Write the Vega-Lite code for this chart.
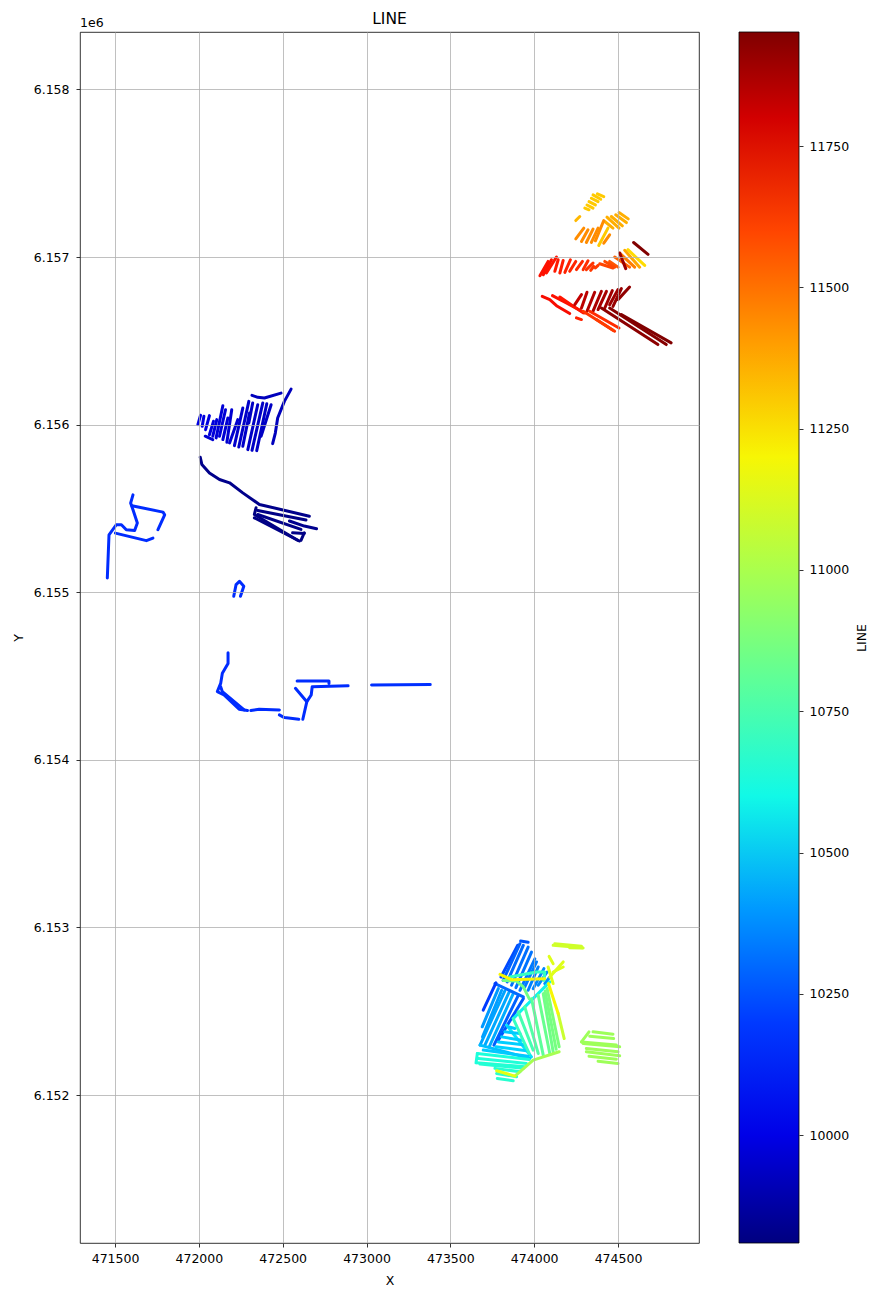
{"$schema":"https://vega.github.io/schema/vega-lite/v6.json","width":619,"height":1211,"autosize":"none","padding":{"left":80,"top":32,"right":182,"bottom":53},"background":"white","title":{"text":"LINE","font":"DejaVu Sans","fontSize":15.5,"fontWeight":"normal","offset":-10,"color":"black"},"config":{"view":{"stroke":"black","strokeWidth":0.8}},"resolve":{"scale":{"y":"independent"}},"datasets":{"lines":[
{"s":"k1","LINE":9830,"X":472008,"Y":6155806},{"s":"k1","LINE":9830,"X":472018,"Y":6155762},{"s":"k1","LINE":9830,"X":472063,"Y":6155712},{"s":"k1","LINE":9830,"X":472123,"Y":6155673},{"s":"k1","LINE":9830,"X":472183,"Y":6155653},{"s":"k1","LINE":9830,"X":472262,"Y":6155593},{"s":"k1","LINE":9830,"X":472361,"Y":6155524},{"s":"k1","LINE":9830,"X":472659,"Y":6155454},
{"s":"k2","LINE":9815,"X":472341,"Y":6155504},{"s":"k2","LINE":9815,"X":472331,"Y":6155464},{"s":"k2","LINE":9815,"X":472589,"Y":6155310},
{"s":"k3","LINE":9820,"X":472351,"Y":6155488},{"s":"k3","LINE":9820,"X":472639,"Y":6155431},
{"s":"k4","LINE":9825,"X":472351,"Y":6155464},{"s":"k4","LINE":9825,"X":472609,"Y":6155375},
{"s":"k5","LINE":9820,"X":472331,"Y":6155444},{"s":"k5","LINE":9820,"X":472599,"Y":6155306},
{"s":"k6","LINE":9835,"X":472540,"Y":6155425},{"s":"k6","LINE":9835,"X":472629,"Y":6155395},{"s":"k6","LINE":9835,"X":472702,"Y":6155379},
{"s":"k7","LINE":9815,"X":472629,"Y":6155355},{"s":"k7","LINE":9815,"X":472609,"Y":6155310},
{"s":"k8","LINE":9820,"X":472559,"Y":6155355},{"s":"k8","LINE":9820,"X":472629,"Y":6155351},
{"s":"m1","LINE":9920,"X":472317,"Y":6156175},{"s":"m1","LINE":9920,"X":472351,"Y":6156163},{"s":"m1","LINE":9920,"X":472391,"Y":6156159},{"s":"m1","LINE":9920,"X":472490,"Y":6156188},
{"s":"m2","LINE":9920,"X":472440,"Y":6155887},{"s":"m2","LINE":9920,"X":472456,"Y":6155950},{"s":"m2","LINE":9920,"X":472470,"Y":6156040},{"s":"m2","LINE":9920,"X":472510,"Y":6156139},{"s":"m2","LINE":9920,"X":472550,"Y":6156212},
{"s":"m3","LINE":9960,"X":472038,"Y":6155931},{"s":"m3","LINE":9960,"X":472083,"Y":6155911},
{"s":"n1","LINE":9990,"X":471994,"Y":6156000},{"s":"n1","LINE":9990,"X":472010,"Y":6156056},
{"s":"n2","LINE":9985,"X":472020,"Y":6155990},{"s":"n2","LINE":9985,"X":472030,"Y":6156050},
{"s":"n3","LINE":9985,"X":472040,"Y":6155970},{"s":"n3","LINE":9985,"X":472063,"Y":6156054},
{"s":"n4","LINE":9980,"X":472063,"Y":6155940},{"s":"n4","LINE":9980,"X":472087,"Y":6156020},
{"s":"n5","LINE":9975,"X":472083,"Y":6155931},{"s":"n5","LINE":9975,"X":472107,"Y":6156030},
{"s":"n6","LINE":9970,"X":472103,"Y":6155921},{"s":"n6","LINE":9970,"X":472143,"Y":6156113},
{"s":"n7","LINE":9970,"X":472123,"Y":6155931},{"s":"n7","LINE":9970,"X":472159,"Y":6156089},
{"s":"n8","LINE":9965,"X":472143,"Y":6155911},{"s":"n8","LINE":9965,"X":472173,"Y":6156040},
{"s":"n9","LINE":9960,"X":472167,"Y":6155895},{"s":"n9","LINE":9960,"X":472196,"Y":6156089},
{"s":"n10","LINE":9955,"X":472183,"Y":6155891},{"s":"n10","LINE":9955,"X":472232,"Y":6156030},
{"s":"n11","LINE":9950,"X":472212,"Y":6155875},{"s":"n11","LINE":9950,"X":472262,"Y":6156099},
{"s":"n12","LINE":9945,"X":472238,"Y":6155867},{"s":"n12","LINE":9945,"X":472298,"Y":6156139},
{"s":"n13","LINE":9945,"X":472262,"Y":6155871},{"s":"n13","LINE":9945,"X":472302,"Y":6156069},
{"s":"n14","LINE":9940,"X":472292,"Y":6155851},{"s":"n14","LINE":9940,"X":472351,"Y":6156119},
{"s":"n15","LINE":9940,"X":472317,"Y":6155847},{"s":"n15","LINE":9940,"X":472381,"Y":6156129},
{"s":"n16","LINE":9935,"X":472345,"Y":6155845},{"s":"n16","LINE":9935,"X":472405,"Y":6156125},
{"s":"n17","LINE":9935,"X":472371,"Y":6155931},{"s":"n17","LINE":9935,"X":472431,"Y":6156119},
{"s":"n18","LINE":9935,"X":472298,"Y":6156010},{"s":"n18","LINE":9935,"X":472321,"Y":6156129},
{"s":"p1","LINE":10170,"X":471454,"Y":6155085},{"s":"p1","LINE":10170,"X":471464,"Y":6155343},{"s":"p1","LINE":10170,"X":471508,"Y":6155403},{"s":"p1","LINE":10170,"X":471538,"Y":6155403},{"s":"p1","LINE":10170,"X":471567,"Y":6155373},{"s":"p1","LINE":10170,"X":471617,"Y":6155369},{"s":"p1","LINE":10170,"X":471633,"Y":6155413},{"s":"p1","LINE":10170,"X":471607,"Y":6155492},{"s":"p1","LINE":10170,"X":471593,"Y":6155532},{"s":"p1","LINE":10170,"X":471607,"Y":6155581},
{"s":"p2","LINE":10170,"X":471502,"Y":6155353},{"s":"p2","LINE":10170,"X":471687,"Y":6155308},{"s":"p2","LINE":10170,"X":471726,"Y":6155323},
{"s":"p3","LINE":10170,"X":471756,"Y":6155373},{"s":"p3","LINE":10170,"X":471796,"Y":6155462},{"s":"p3","LINE":10170,"X":471786,"Y":6155478},{"s":"p3","LINE":10170,"X":471601,"Y":6155516},
{"s":"p4","LINE":10170,"X":472208,"Y":6154976},{"s":"p4","LINE":10170,"X":472222,"Y":6155046},{"s":"p4","LINE":10170,"X":472242,"Y":6155065},{"s":"p4","LINE":10170,"X":472268,"Y":6155036},{"s":"p4","LINE":10170,"X":472248,"Y":6154976},
{"s":"q1","LINE":10170,"X":472174,"Y":6154639},{"s":"q1","LINE":10170,"X":472174,"Y":6154575},{"s":"q1","LINE":10170,"X":472140,"Y":6154516},{"s":"q1","LINE":10170,"X":472130,"Y":6154456},{"s":"q1","LINE":10170,"X":472110,"Y":6154407},{"s":"q1","LINE":10170,"X":472150,"Y":6154387},{"s":"q1","LINE":10170,"X":472240,"Y":6154302},{"s":"q1","LINE":10170,"X":472290,"Y":6154294},
{"s":"q2","LINE":10170,"X":472130,"Y":6154436},{"s":"q2","LINE":10170,"X":472140,"Y":6154407},{"s":"q2","LINE":10170,"X":472270,"Y":6154298},
{"s":"q3","LINE":10170,"X":472310,"Y":6154294},{"s":"q3","LINE":10170,"X":472360,"Y":6154302},{"s":"q3","LINE":10170,"X":472480,"Y":6154298},
{"s":"q4","LINE":10170,"X":472480,"Y":6154268},{"s":"q4","LINE":10170,"X":472510,"Y":6154252},{"s":"q4","LINE":10170,"X":472596,"Y":6154242},
{"s":"q5","LINE":10170,"X":472620,"Y":6154242},{"s":"q5","LINE":10170,"X":472644,"Y":6154347},{"s":"q5","LINE":10170,"X":472670,"Y":6154387},{"s":"q5","LINE":10170,"X":472676,"Y":6154436},{"s":"q5","LINE":10170,"X":472890,"Y":6154442},
{"s":"q6","LINE":10170,"X":472644,"Y":6154347},{"s":"q6","LINE":10170,"X":472576,"Y":6154427},
{"s":"q7","LINE":10170,"X":472586,"Y":6154470},{"s":"q7","LINE":10170,"X":472776,"Y":6154470},{"s":"q7","LINE":10170,"X":472776,"Y":6154456},
{"s":"q8","LINE":10175,"X":473030,"Y":6154446},{"s":"q8","LINE":10175,"X":473380,"Y":6154450},
{"s":"u0","LINE":10230,"X":473802,"Y":6152704},{"s":"u0","LINE":10230,"X":473901,"Y":6152893},
{"s":"u1","LINE":10280,"X":473815,"Y":6152684},{"s":"u1","LINE":10280,"X":473915,"Y":6152903},
{"s":"u2","LINE":10300,"X":473839,"Y":6152675},{"s":"u2","LINE":10300,"X":473935,"Y":6152893},
{"s":"u3","LINE":10310,"X":473865,"Y":6152655},{"s":"u3","LINE":10310,"X":473964,"Y":6152883},
{"s":"u4","LINE":10320,"X":473891,"Y":6152641},{"s":"u4","LINE":10320,"X":473984,"Y":6152853},
{"s":"u5","LINE":10330,"X":473915,"Y":6152625},{"s":"u5","LINE":10330,"X":474004,"Y":6152813},
{"s":"u6","LINE":10340,"X":473944,"Y":6152645},{"s":"u6","LINE":10340,"X":474014,"Y":6152794},
{"s":"u7","LINE":10350,"X":473964,"Y":6152625},{"s":"u7","LINE":10350,"X":474024,"Y":6152764},
{"s":"u8","LINE":10360,"X":473994,"Y":6152635},{"s":"u8","LINE":10360,"X":474058,"Y":6152754},
{"s":"u9","LINE":10370,"X":474024,"Y":6152655},{"s":"u9","LINE":10370,"X":474077,"Y":6152734},
{"s":"u10","LINE":10380,"X":474063,"Y":6152665},{"s":"u10","LINE":10380,"X":474093,"Y":6152704},
{"s":"u11","LINE":10260,"X":473919,"Y":6152919},{"s":"u11","LINE":10260,"X":473964,"Y":6152911},
{"s":"l1","LINE":10400,"X":473690,"Y":6152407},{"s":"l1","LINE":10400,"X":473786,"Y":6152635},
{"s":"l2","LINE":10410,"X":473692,"Y":6152347},{"s":"l2","LINE":10410,"X":473806,"Y":6152625},
{"s":"l3","LINE":10420,"X":473677,"Y":6152298},{"s":"l3","LINE":10420,"X":473825,"Y":6152621},
{"s":"l4","LINE":10430,"X":473706,"Y":6152298},{"s":"l4","LINE":10430,"X":473851,"Y":6152615},
{"s":"l5","LINE":10440,"X":473732,"Y":6152288},{"s":"l5","LINE":10440,"X":473875,"Y":6152605},
{"s":"l6","LINE":10280,"X":473760,"Y":6152298},{"s":"l6","LINE":10280,"X":473905,"Y":6152595},
{"s":"l7","LINE":10260,"X":473786,"Y":6152327},{"s":"l7","LINE":10260,"X":473935,"Y":6152575},
{"s":"l8","LINE":10300,"X":473766,"Y":6152665},{"s":"l8","LINE":10300,"X":473935,"Y":6152585},
{"s":"l0","LINE":10200,"X":473696,"Y":6152506},{"s":"l0","LINE":10200,"X":473772,"Y":6152669},
{"s":"t1","LINE":10560,"X":473835,"Y":6152417},{"s":"t1","LINE":10560,"X":473984,"Y":6152228},
{"s":"t2","LINE":10480,"X":473677,"Y":6152298},{"s":"t2","LINE":10480,"X":473974,"Y":6152218},
{"s":"t3","LINE":10500,"X":473845,"Y":6152407},{"s":"t3","LINE":10500,"X":473885,"Y":6152397},
{"s":"t4","LINE":10500,"X":473825,"Y":6152377},{"s":"t4","LINE":10500,"X":473915,"Y":6152367},
{"s":"t5","LINE":10510,"X":473806,"Y":6152347},{"s":"t5","LINE":10510,"X":473925,"Y":6152327},
{"s":"t6","LINE":10510,"X":473786,"Y":6152317},{"s":"t6","LINE":10510,"X":473944,"Y":6152298},
{"s":"t7","LINE":10520,"X":473772,"Y":6152288},{"s":"t7","LINE":10520,"X":473954,"Y":6152264},
{"s":"t8","LINE":10500,"X":473696,"Y":6152268},{"s":"t8","LINE":10500,"X":473964,"Y":6152232},
{"s":"b1","LINE":10630,"X":473661,"Y":6152248},{"s":"b1","LINE":10630,"X":473970,"Y":6152212},
{"s":"b2","LINE":10640,"X":473667,"Y":6152218},{"s":"b2","LINE":10640,"X":473954,"Y":6152188},
{"s":"b3","LINE":10650,"X":473657,"Y":6152192},{"s":"b3","LINE":10650,"X":473944,"Y":6152169},
{"s":"b4","LINE":10650,"X":473677,"Y":6152185},{"s":"b4","LINE":10650,"X":473935,"Y":6152159},
{"s":"b5","LINE":10660,"X":473766,"Y":6152159},{"s":"b5","LINE":10660,"X":473915,"Y":6152139},
{"s":"b6","LINE":10670,"X":473776,"Y":6152129},{"s":"b6","LINE":10670,"X":473895,"Y":6152109},
{"s":"b7","LINE":10660,"X":473780,"Y":6152099},{"s":"b7","LINE":10660,"X":473875,"Y":6152085},
{"s":"b8","LINE":10630,"X":473661,"Y":6152248},{"s":"b8","LINE":10630,"X":473653,"Y":6152192},
{"s":"e0","LINE":10590,"X":474093,"Y":6152675},{"s":"e0","LINE":10590,"X":473875,"Y":6152456},
{"s":"g1","LINE":10700,"X":473875,"Y":6152456},{"s":"g1","LINE":10700,"X":473970,"Y":6152248},
{"s":"g2","LINE":10740,"X":473905,"Y":6152496},{"s":"g2","LINE":10740,"X":473994,"Y":6152268},
{"s":"g3","LINE":10770,"X":473944,"Y":6152526},{"s":"g3","LINE":10770,"X":474024,"Y":6152248},
{"s":"g4","LINE":10800,"X":473984,"Y":6152575},{"s":"g4","LINE":10800,"X":474054,"Y":6152238},
{"s":"g5","LINE":10830,"X":474024,"Y":6152595},{"s":"g5","LINE":10830,"X":474093,"Y":6152248},
{"s":"g6","LINE":10850,"X":474054,"Y":6152605},{"s":"g6","LINE":10850,"X":474113,"Y":6152258},
{"s":"g16","LINE":10865,"X":474065,"Y":6152620},{"s":"g16","LINE":10865,"X":474131,"Y":6152273},
{"s":"g7","LINE":10880,"X":474077,"Y":6152635},{"s":"g7","LINE":10880,"X":474149,"Y":6152288},
{"s":"g9","LINE":10700,"X":473855,"Y":6152704},{"s":"g9","LINE":10700,"X":474014,"Y":6152734},{"s":"g9","LINE":10700,"X":474063,"Y":6152734},{"s":"g9","LINE":10700,"X":474058,"Y":6152684},
{"s":"g10","LINE":10850,"X":473815,"Y":6152684},{"s":"g10","LINE":10850,"X":473895,"Y":6152680},{"s":"g10","LINE":10850,"X":473935,"Y":6152645},{"s":"g10","LINE":10850,"X":473970,"Y":6152575},
{"s":"r1","LINE":10970,"X":474282,"Y":6152317},{"s":"r1","LINE":10970,"X":474327,"Y":6152377},
{"s":"r2","LINE":10970,"X":474351,"Y":6152377},{"s":"r2","LINE":10970,"X":474470,"Y":6152363},
{"s":"r3","LINE":10970,"X":474331,"Y":6152351},{"s":"r3","LINE":10970,"X":474474,"Y":6152337},
{"s":"r4","LINE":10970,"X":474282,"Y":6152317},{"s":"r4","LINE":10970,"X":474490,"Y":6152298},
{"s":"r5","LINE":10970,"X":474292,"Y":6152308},{"s":"r5","LINE":10970,"X":474510,"Y":6152288},
{"s":"r9","LINE":10970,"X":474311,"Y":6152278},{"s":"r9","LINE":10970,"X":474500,"Y":6152258},
{"s":"r6","LINE":10970,"X":474311,"Y":6152258},{"s":"r6","LINE":10970,"X":474510,"Y":6152234},
{"s":"r7","LINE":10970,"X":474327,"Y":6152232},{"s":"r7","LINE":10970,"X":474490,"Y":6152214},
{"s":"r8","LINE":10970,"X":474381,"Y":6152202},{"s":"r8","LINE":10970,"X":474500,"Y":6152188},
{"s":"y0","LINE":10990,"X":473885,"Y":6152113},{"s":"y0","LINE":10990,"X":473994,"Y":6152208},{"s":"y0","LINE":10990,"X":474149,"Y":6152258},
{"s":"y1","LINE":11080,"X":474143,"Y":6152486},{"s":"y1","LINE":11080,"X":474179,"Y":6152337},
{"s":"y2","LINE":11095,"X":474123,"Y":6152903},{"s":"y2","LINE":11095,"X":474282,"Y":6152887},
{"s":"y3","LINE":11095,"X":474113,"Y":6152893},{"s":"y3","LINE":11095,"X":474288,"Y":6152879},
{"s":"y4","LINE":11095,"X":474212,"Y":6152879},{"s":"y4","LINE":11095,"X":474292,"Y":6152877},
{"s":"z1","LINE":11138,"X":474089,"Y":6152827},{"s":"z1","LINE":11138,"X":474113,"Y":6152784},
{"s":"z2","LINE":11138,"X":474083,"Y":6152764},{"s":"z2","LINE":11138,"X":474113,"Y":6152665},
{"s":"z3","LINE":11138,"X":474093,"Y":6152704},{"s":"z3","LINE":11138,"X":474173,"Y":6152794},
{"s":"z4","LINE":11138,"X":474113,"Y":6152734},{"s":"z4","LINE":11138,"X":474173,"Y":6152764},
{"s":"z5","LINE":11150,"X":473776,"Y":6152145},{"s":"z5","LINE":11150,"X":473885,"Y":6152113},
{"s":"z6","LINE":11200,"X":474085,"Y":6152665},{"s":"z6","LINE":11200,"X":474143,"Y":6152486},
{"s":"z7","LINE":11200,"X":473796,"Y":6152720},{"s":"z7","LINE":11200,"X":473865,"Y":6152688},{"s":"z7","LINE":11200,"X":474063,"Y":6152694},
{"s":"e1","LINE":11260,"X":474559,"Y":6157044},{"s":"e1","LINE":11260,"X":474659,"Y":6156950},
{"s":"c7","LINE":11300,"X":474385,"Y":6157069},{"s":"c7","LINE":11300,"X":474440,"Y":6157173},
{"s":"a1","LINE":11300,"X":474377,"Y":6157377},{"s":"a1","LINE":11300,"X":474415,"Y":6157361},
{"s":"a2","LINE":11300,"X":474351,"Y":6157371},{"s":"a2","LINE":11300,"X":474397,"Y":6157345},
{"s":"a3","LINE":11300,"X":474341,"Y":6157351},{"s":"a3","LINE":11300,"X":474381,"Y":6157331},
{"s":"a4","LINE":11300,"X":474327,"Y":6157331},{"s":"a4","LINE":11300,"X":474365,"Y":6157311},
{"s":"a5","LINE":11300,"X":474315,"Y":6157311},{"s":"a5","LINE":11300,"X":474351,"Y":6157292},
{"s":"a6","LINE":11300,"X":474302,"Y":6157292},{"s":"a6","LINE":11300,"X":474327,"Y":6157282},
{"s":"a7","LINE":11340,"X":474248,"Y":6157218},{"s":"a7","LINE":11340,"X":474272,"Y":6157242},
{"s":"d1","LINE":11360,"X":474506,"Y":6157266},{"s":"d1","LINE":11360,"X":474561,"Y":6157228},
{"s":"d2","LINE":11360,"X":474486,"Y":6157252},{"s":"d2","LINE":11360,"X":474550,"Y":6157206},
{"s":"d3","LINE":11360,"X":474460,"Y":6157242},{"s":"d3","LINE":11360,"X":474526,"Y":6157186},
{"s":"d4","LINE":11360,"X":474434,"Y":6157238},{"s":"d4","LINE":11360,"X":474506,"Y":6157173},
{"s":"d5","LINE":11360,"X":474421,"Y":6157212},{"s":"d5","LINE":11360,"X":474470,"Y":6157173},
{"s":"e2","LINE":11380,"X":474540,"Y":6157040},{"s":"e2","LINE":11380,"X":474629,"Y":6156940},
{"s":"c1","LINE":11440,"X":474248,"Y":6157109},{"s":"c1","LINE":11440,"X":474296,"Y":6157173},
{"s":"c2","LINE":11440,"X":474282,"Y":6157093},{"s":"c2","LINE":11440,"X":474321,"Y":6157163},
{"s":"c3","LINE":11440,"X":474311,"Y":6157087},{"s":"c3","LINE":11440,"X":474351,"Y":6157167},
{"s":"c4","LINE":11440,"X":474341,"Y":6157087},{"s":"c4","LINE":11440,"X":474381,"Y":6157173},
{"s":"c5","LINE":11440,"X":474365,"Y":6157097},{"s":"c5","LINE":11440,"X":474415,"Y":6157218},
{"s":"c6","LINE":11440,"X":474415,"Y":6157083},{"s":"c6","LINE":11440,"X":474450,"Y":6157133},
{"s":"e3","LINE":11470,"X":474510,"Y":6157024},{"s":"e3","LINE":11470,"X":474599,"Y":6156940},
{"s":"e4","LINE":11530,"X":474480,"Y":6157000},{"s":"e4","LINE":11530,"X":474569,"Y":6156940},
{"s":"e5","LINE":11560,"X":474450,"Y":6156974},{"s":"e5","LINE":11560,"X":474500,"Y":6156940},
{"s":"f14","LINE":11590,"X":474421,"Y":6156974},{"s":"f14","LINE":11590,"X":474480,"Y":6156940},
{"s":"f13","LINE":11600,"X":474391,"Y":6156960},{"s":"f13","LINE":11600,"X":474470,"Y":6156935},
{"s":"f12","LINE":11620,"X":474365,"Y":6156935},{"s":"f12","LINE":11620,"X":474381,"Y":6156950},
{"s":"f11","LINE":11630,"X":474337,"Y":6156921},{"s":"f11","LINE":11630,"X":474355,"Y":6156944},
{"s":"f10","LINE":11640,"X":474311,"Y":6156925},{"s":"f10","LINE":11640,"X":474351,"Y":6156964},
{"s":"f9","LINE":11650,"X":474292,"Y":6156925},{"s":"f9","LINE":11650,"X":474321,"Y":6156978},
{"s":"f8","LINE":11660,"X":474252,"Y":6156925},{"s":"f8","LINE":11660,"X":474288,"Y":6156974},
{"s":"f7","LINE":11670,"X":474212,"Y":6156915},{"s":"f7","LINE":11670,"X":474248,"Y":6156974},
{"s":"f6","LINE":11680,"X":474183,"Y":6156909},{"s":"f6","LINE":11680,"X":474216,"Y":6156984},
{"s":"f5","LINE":11690,"X":474153,"Y":6156905},{"s":"f5","LINE":11690,"X":474173,"Y":6156980},
{"s":"f4","LINE":11700,"X":474123,"Y":6156915},{"s":"f4","LINE":11700,"X":474143,"Y":6156984},
{"s":"f3","LINE":11710,"X":474073,"Y":6156905},{"s":"f3","LINE":11710,"X":474133,"Y":6157000},
{"s":"f2","LINE":11720,"X":474054,"Y":6156895},{"s":"f2","LINE":11720,"X":474103,"Y":6156984},
{"s":"f1","LINE":11720,"X":474034,"Y":6156889},{"s":"f1","LINE":11720,"X":474083,"Y":6156974},
{"s":"h1","LINE":11730,"X":474048,"Y":6156766},{"s":"h1","LINE":11730,"X":474093,"Y":6156746},{"s":"h1","LINE":11730,"X":474133,"Y":6156710},{"s":"h1","LINE":11730,"X":474212,"Y":6156663},
{"s":"h2","LINE":11720,"X":474109,"Y":6156770},{"s":"h2","LINE":11720,"X":474192,"Y":6156726},{"s":"h2","LINE":11720,"X":474302,"Y":6156667},
{"s":"h3","LINE":11710,"X":474153,"Y":6156762},{"s":"h3","LINE":11710,"X":474292,"Y":6156667},
{"s":"h4","LINE":11680,"X":474252,"Y":6156637},{"s":"h4","LINE":11680,"X":474282,"Y":6156627},
{"s":"i1","LINE":11830,"X":474242,"Y":6156716},{"s":"i1","LINE":11830,"X":474282,"Y":6156776},
{"s":"i2","LINE":11840,"X":474282,"Y":6156696},{"s":"i2","LINE":11840,"X":474315,"Y":6156790},
{"s":"i3","LINE":11860,"X":474315,"Y":6156677},{"s":"i3","LINE":11860,"X":474361,"Y":6156790},
{"s":"i4","LINE":11870,"X":474351,"Y":6156677},{"s":"i4","LINE":11870,"X":474401,"Y":6156796},
{"s":"i5","LINE":11880,"X":474381,"Y":6156687},{"s":"i5","LINE":11880,"X":474431,"Y":6156796},
{"s":"i6","LINE":11890,"X":474421,"Y":6156696},{"s":"i6","LINE":11890,"X":474466,"Y":6156800},
{"s":"i7","LINE":11900,"X":474450,"Y":6156716},{"s":"i7","LINE":11900,"X":474500,"Y":6156806},
{"s":"i8","LINE":11910,"X":474470,"Y":6156706},{"s":"i8","LINE":11910,"X":474520,"Y":6156812},
{"s":"i9","LINE":11920,"X":474500,"Y":6156746},{"s":"i9","LINE":11920,"X":474569,"Y":6156821},
{"s":"h5","LINE":11640,"X":474292,"Y":6156677},{"s":"h5","LINE":11640,"X":474480,"Y":6156558},
{"s":"h6","LINE":11660,"X":474331,"Y":6156677},{"s":"h6","LINE":11660,"X":474506,"Y":6156577},
{"s":"h7","LINE":11620,"X":474371,"Y":6156627},{"s":"h7","LINE":11620,"X":474470,"Y":6156564},
{"s":"j1","LINE":11930,"X":474401,"Y":6156696},{"s":"j1","LINE":11930,"X":474738,"Y":6156478},
{"s":"j2","LINE":11940,"X":474450,"Y":6156696},{"s":"j2","LINE":11940,"X":474788,"Y":6156478},
{"s":"j3","LINE":11950,"X":474520,"Y":6156657},{"s":"j3","LINE":11950,"X":474817,"Y":6156488},
{"s":"j4","LINE":11950,"X":474593,"Y":6157087},{"s":"j4","LINE":11950,"X":474679,"Y":6157016},
{"s":"j5","LINE":11900,"X":474510,"Y":6157024},{"s":"j5","LINE":11900,"X":474546,"Y":6156931}
]},"layer":[{"data":{"name":"lines"},"mark":{"type":"line","strokeWidth":3,"strokeCap":"round","strokeJoin":"round","clip":true},"encoding":{"x":{"field":"X","type":"quantitative","title":"X","scale":{"domain":[471291,474983],"nice":false,"zero":false},"axis":{"zindex":1,"values":[471500,472000,472500,473000,473500,474000,474500],"format":"d","grid":true,"gridColor":"#b0b0b0","gridWidth":0.8,"domain":false,"tickColor":"black","tickSize":4,"tickWidth":0.8,"labelFont":"DejaVu Sans","labelFontSize":12.5,"labelColor":"black","labelPadding":5,"titleFont":"DejaVu Sans","titleFontSize":12.5,"titleFontWeight":"normal","titleColor":"black","titlePadding":10,"labelOverlap":false}},"y":{"field":"Y","type":"quantitative","title":"Y","scale":{"domain":[6151117,6158343],"nice":false,"zero":false},"axis":{"zindex":1,"values":[6152000,6153000,6154000,6155000,6156000,6157000,6158000],"labelExpr":"format(datum.value/1000000,'.3f')","grid":true,"gridColor":"#b0b0b0","gridWidth":0.8,"domain":false,"tickColor":"black","tickSize":4,"tickWidth":0.8,"labelFont":"DejaVu Sans","labelFontSize":12.5,"labelColor":"black","labelPadding":7,"titleFont":"DejaVu Sans","titleFontSize":12.5,"titleFontWeight":"normal","titleColor":"black","titlePadding":8,"labelOverlap":false}},"color":{"field":"LINE","type":"quantitative","scale":{"domain":[9809,10045,10077,10538,10613,11181,11223,11716,11759,11952],"range":["#000080","#0000ff","#0000ff","#00dbff","#14ffe2","#f0ff08","#ffec00","#ff1200","#e80000","#800000"],"interpolate":"rgb"},"legend":{"orient":"none","legendX":659,"legendY":0,"direction":"vertical","type":"gradient","gradientLength":1211,"gradientThickness":60,"gradientStrokeColor":"black","gradientStrokeWidth":0.8,"values":[10000,11000],"labelExpr":"''","title":null}},"detail":{"field":"s"},"order":{"value":null}}},{"data":{"values":[{"t":"1e6","X":471291,"Y":6158343}]},"mark":{"type":"text","font":"DejaVu Sans","fontSize":12.5,"align":"left","baseline":"bottom","dy":-2,"color":"black"},"encoding":{"x":{"field":"X","type":"quantitative"},"y":{"field":"Y","type":"quantitative","scale":{"domain":[6151117,6158343],"nice":false,"zero":false},"axis":null},"text":{"field":"t"}}},{"data":{"name":"lines"},"mark":{"type":"point","opacity":0},"encoding":{"x":{"field":"X","type":"quantitative"},"y":{"field":"LINE","type":"quantitative","title":"LINE","scale":{"domain":[9809,11952],"nice":false,"zero":false},"axis":{"orient":"right","offset":100,"values":[10000,10250,10500,10750,11000,11250,11500,11750],"format":"d","grid":false,"domain":false,"tickColor":"black","tickSize":4,"tickWidth":0.8,"labelFont":"DejaVu Sans","labelFontSize":12.5,"labelColor":"black","labelPadding":6,"titleFont":"DejaVu Sans","titleFontSize":12.5,"titleFontWeight":"normal","titleColor":"black","titleAngle":270,"titlePadding":20,"labelOverlap":false}}}}]}
